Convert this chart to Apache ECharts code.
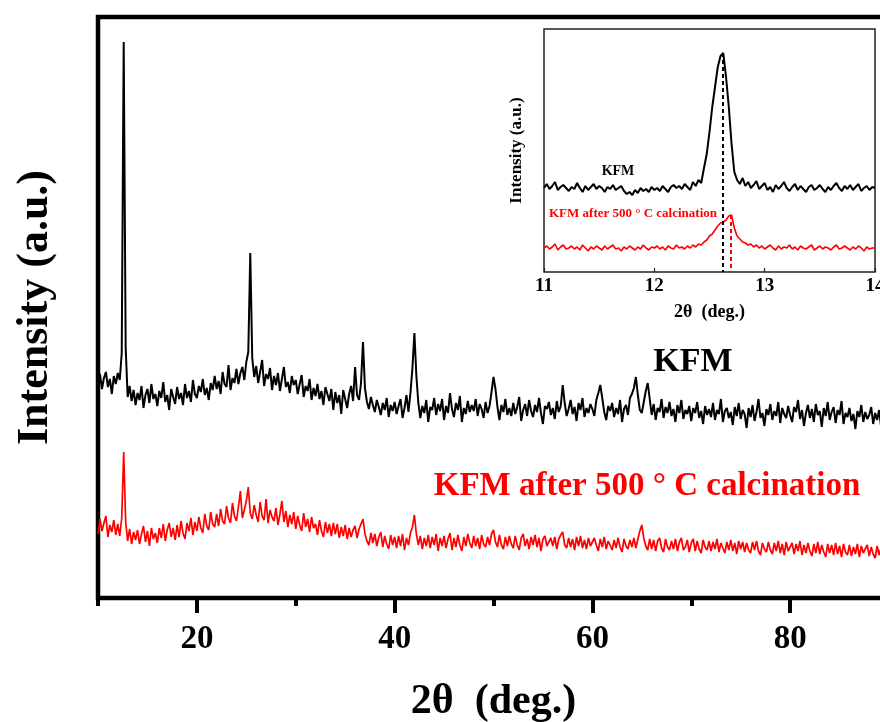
<!DOCTYPE html>
<html>
<head>
<meta charset="utf-8">
<script src="https://cdn.jsdelivr.net/npm/echarts@6/dist/echarts.min.js"></script>
<style>
  html, body { margin: 0; padding: 0; background: #fff; }
  #chart { width: 880px; height: 722px; }
</style>
</head>
<body>
<div id="chart"></div>
<script>
// XRD patterns, 2θ from 10° to 90° sampled every 0.2°
const twoThetaStart = 10;
const twoThetaStep = 0.2;

// KFM (as prepared), intensity in arbitrary units
const kfmIntensity = [
  212, 224, 209, 220, 226, 211, 219, 204, 222, 214,
  225, 218, 245, 556, 250, 201, 212, 197, 208, 193,
  205, 198, 212, 190, 203, 209, 195, 214, 199, 204,
  192, 207, 200, 216, 196, 203, 188, 209, 201, 194,
  211, 199, 205, 193, 214, 200, 207, 196, 218, 204,
  200, 212, 206, 219, 203, 210, 198, 215, 208, 222,
  209, 217, 204, 226, 214, 211, 233, 208, 220, 215,
  229, 214, 225, 231, 218, 236, 246, 345, 240, 221,
  232, 215, 226, 238, 212, 224, 219, 230, 208, 222,
  213, 225, 207, 219, 231, 211, 216, 205, 222, 213,
  218, 204, 214, 223, 201, 212, 207, 219, 198, 210,
  202, 214, 199, 207, 193, 211, 204, 197, 209, 188,
  206, 195, 203, 184, 208, 199, 190, 204, 212, 197,
  231, 203, 198, 215, 256, 210, 196, 189, 201, 193,
  186, 198, 191, 183, 195, 188, 200, 181, 193, 187,
  196, 184, 192, 199, 180, 190, 203, 186, 205, 230,
  265, 222, 195, 180, 192, 185, 198, 176, 191, 188,
  200, 183, 194, 187, 199, 178, 192, 185, 205, 189,
  181, 195, 188, 202, 176, 190, 184, 197, 186, 193,
  187, 199, 182, 194, 189, 180, 196, 185, 192, 206,
  221, 209, 191, 178, 193, 186, 199, 183, 190, 182,
  195, 184, 191, 201, 177, 188, 194, 182, 198, 187,
  181, 193, 186, 200, 185, 174, 192, 189, 196, 183,
  190, 179, 197, 186, 192, 213, 195, 182, 189, 198,
  184, 191, 177, 195, 188, 200, 181, 190, 185, 194,
  189, 182, 198, 205, 213, 200, 186, 178, 192, 187,
  195, 181, 190, 184, 198, 176, 189, 193, 183, 200,
  204, 210, 221, 203, 188, 185, 196, 207, 215, 199,
  183, 194, 178, 190, 186, 199, 180, 191, 185, 196,
  182, 189, 176, 193, 185, 198, 179, 188, 184, 192,
  177, 190, 185, 196, 180, 187, 174, 192, 183, 189,
  181, 195, 178, 188, 184, 199, 176, 187, 190, 180,
  186, 173, 191, 182, 195, 179, 188, 184, 170, 190,
  181, 193, 177, 186, 199, 180, 185, 172, 189, 183,
  194, 178, 187, 182, 196, 175, 190, 184, 180, 192,
  183, 176, 191, 186, 198, 179, 188, 172, 185, 193,
  180, 189, 176, 194, 183, 187, 171, 190, 182, 196,
  178, 186, 191, 175, 188, 183, 197, 174, 185, 181,
  190, 177, 184, 169, 187, 181, 193, 176, 186, 179,
  183, 191, 174, 185, 178, 188, 171, 184, 180, 176,
  181
];

// KFM after calcination at 500 °C
const calcinedIntensity = [
  64, 79, 67, 75, 82, 61, 73, 66, 78, 63,
  74, 62, 80, 146, 76, 57, 69, 54, 66, 58,
  68, 54, 64, 72, 56, 67, 52, 70, 59, 65,
  55, 70, 60, 74, 57, 68, 75, 61, 70, 58,
  73, 61, 77, 65, 59, 75, 67, 80, 63, 76,
  67, 81, 70, 65, 84, 72, 68, 86, 74, 71,
  84, 72, 89, 77, 74, 92, 80, 75, 95, 82,
  77, 91, 107, 80, 88, 97, 111, 85, 79, 93,
  83, 76, 96, 82, 78, 99, 75, 88, 81, 77,
  90, 73, 84, 97, 76, 87, 71, 83, 74, 86,
  69, 82, 73, 67, 85, 71, 79, 66, 81, 70,
  74, 63, 78, 67, 61, 76, 65, 74, 62, 75,
  64, 74, 60, 71, 62, 73, 59, 70, 61, 68,
  72, 60, 69, 74, 79, 64, 57, 53, 65, 55,
  64, 52, 61, 66, 51, 62, 54, 49, 63, 53,
  61, 50, 62, 52, 64, 48, 60, 53, 65, 71,
  83, 64, 53, 62, 49, 60, 52, 63, 50, 61,
  53, 64, 47, 60, 52, 62, 50, 59, 65, 48,
  60, 51, 63, 53, 47, 61, 52, 64, 55, 50,
  62, 52, 60, 49, 63, 54, 51, 61, 53, 64,
  68, 56, 51, 63, 53, 49, 61, 52, 62, 54,
  50, 62, 53, 48, 60, 64, 52, 59, 49, 61,
  53, 63, 51, 60, 47, 59, 62, 52, 50, 60,
  52, 61, 49, 59, 63, 66, 53, 50, 60, 51,
  59, 48, 61, 52, 62, 50, 58, 49, 60, 52,
  50, 60, 53, 47, 59, 51, 61, 49, 57, 59,
  48, 58, 50, 60, 51, 46, 59, 52, 49, 58,
  51, 60, 50, 59, 67, 73, 60, 52, 48, 59,
  49, 58, 47, 57, 60, 50, 46, 59, 51, 48,
  57, 49, 59, 47, 56, 60, 48, 51, 58, 46,
  55, 59, 47, 57, 49, 45, 58, 51, 48, 57,
  47, 56, 49, 59, 46, 55, 57, 45, 56, 48,
  58, 47, 55, 44, 57, 49, 56, 46, 55, 48,
  45, 56, 48, 57, 47, 43, 55, 49, 46, 56,
  48, 44, 55, 47, 57, 45, 54, 43, 56, 47,
  46, 55, 44, 54, 47, 57, 43, 53, 45, 55,
  47, 42, 54, 45, 56, 44, 53, 46, 41, 54,
  45, 53, 43, 55, 44, 52, 41, 54, 46, 43,
  53, 42, 51, 44, 54, 41, 52, 45, 43, 53,
  42, 51, 44, 40, 52, 43, 50, 41, 51, 43,
  47
];

// Close-up of the first reflection, 2θ 11°–14° every 0.025°
const zoomStart = 11;
const zoomStep = 0.025;
const zoomKfm = [
  84, 88, 83, 86, 90, 82, 85, 87, 84, 81,
  85, 83, 89, 84, 80, 86, 82, 85, 88, 83,
  86, 84, 80, 85, 83, 87, 82, 84, 86, 81,
  78, 80, 77, 82, 79, 84, 81, 83, 80, 85,
  82, 84, 81, 86, 83, 80, 85, 87, 84, 86,
  83, 88, 85, 82, 90, 86, 92, 89, 104, 118,
  140, 165, 185, 205, 216, 219, 195, 165, 128, 100,
  92, 88, 94, 86, 90, 84, 87, 91, 83, 86,
  89, 82, 85, 80, 87, 83, 86, 90, 84, 81,
  85, 88, 82, 86, 83, 80, 85, 87, 82, 84,
  87, 83, 80, 85, 82, 86, 89, 84, 81, 86,
  83, 87, 82, 85, 88, 81, 84, 86, 82, 85,
  84
];
const zoomCalcined = [
  24, 26, 23, 25, 28, 22, 25, 27, 23, 24,
  26, 23, 25, 22, 27, 24, 21, 25, 23, 26,
  24, 22, 26, 23, 25, 27, 23, 24, 21, 25,
  23, 26, 24, 22, 25, 23, 27, 24, 22, 25,
  24, 26, 23, 25, 22, 26, 24, 23, 27, 24,
  25, 23, 26, 24, 27, 25, 28, 27, 30, 32,
  36, 38, 42, 46, 49, 50, 52, 56, 57, 44,
  36, 33, 30, 29, 27, 28, 25, 27, 24, 26,
  23, 25, 27, 24, 22, 26, 23, 25, 24, 27,
  23, 25, 22, 26, 24, 23, 25, 27, 22, 24,
  26, 23, 25, 24, 22, 25, 27, 23, 24, 26,
  24, 22, 25, 23, 26, 24, 21, 25, 23, 24,
  24
];
// Peak centres marked with dashed guides (2θ, deg.)
const peakCentres = [12.62, 12.69];

const mainTicks = [20, 40, 60, 80];
const mainMinorTicks = [10, 30, 50, 70, 90];

const seriesNames = ['KFM', 'KFM after 500 ° C calcination'];
const colors = ['#000000', '#ff0000'];

function pairs(start, step, values) {
  return values.map((v, i) => [+(start + step * i).toFixed(3), v]);
}

const serif = 'Liberation Serif, Times New Roman, serif';
const chart = echarts.init(document.getElementById('chart'), null, { renderer: 'canvas' });

const option = {
  backgroundColor: '#ffffff',
  animation: false,
  grid: [
    { left: 98, top: 17, right: -9, bottom: 124, show: true, outerBoundsMode: 'none',
      borderColor: '#000', borderWidth: 4.5, backgroundColor: 'transparent' },
    { left: 544, top: 29, right: 5, bottom: 450, show: true, outerBoundsMode: 'none',
      borderColor: '#222', borderWidth: 1.5, backgroundColor: '#fff' }
  ],
  xAxis: [
    { gridIndex: 0, type: 'value', min: 10, max: 90, position: 'bottom',
      name: '2θ  (deg.)', nameLocation: 'middle', nameGap: 83,
      nameTextStyle: { fontFamily: serif, fontWeight: 'bold', fontSize: 42, color: '#000' },
      axisLine: { show: false },
      axisTick: { show: true, customValues: mainTicks, length: 15, lineStyle: { width: 4, color: '#000' } },
      axisLabel: { show: true, customValues: mainTicks, margin: 25,
        fontFamily: serif, fontWeight: 'bold', fontSize: 33, color: '#000' },
      splitLine: { show: false } },
    { gridIndex: 0, type: 'value', min: 10, max: 90, position: 'bottom',
      axisLine: { show: false },
      axisTick: { show: true, customValues: mainMinorTicks, length: 8, lineStyle: { width: 4, color: '#000' } },
      axisLabel: { show: false }, splitLine: { show: false } },
    { gridIndex: 1, type: 'value', min: 11, max: 14, interval: 1, position: 'bottom',
      name: '2θ  (deg.)', nameLocation: 'middle', nameGap: 31,
      nameTextStyle: { fontFamily: serif, fontWeight: 'bold', fontSize: 18, color: '#000' },
      axisLine: { show: false },
      axisTick: { show: true, inside: true, length: 4, lineStyle: { width: 1.2, color: '#222' } },
      axisLabel: { show: true, margin: 5, fontFamily: serif, fontWeight: 'bold', fontSize: 19, color: '#000' },
      splitLine: { show: false } }
  ],
  yAxis: [
    { gridIndex: 0, type: 'value', min: 0, max: 581,
      name: 'Intensity (a.u.)', nameLocation: 'middle', nameGap: 40,
      nameTextStyle: { fontFamily: serif, fontWeight: 'bold', fontSize: 44, color: '#000' },
      axisLine: { show: false }, axisTick: { show: false }, axisLabel: { show: false },
      splitLine: { show: false } },
    { gridIndex: 1, type: 'value', min: 0, max: 243,
      name: 'Intensity (a.u.)', nameLocation: 'middle', nameGap: 19,
      nameTextStyle: { fontFamily: serif, fontWeight: 'bold', fontSize: 17, color: '#000' },
      axisLine: { show: false }, axisTick: { show: false }, axisLabel: { show: false },
      splitLine: { show: false } }
  ],
  series: [
    { name: seriesNames[0], type: 'line', xAxisIndex: 0, yAxisIndex: 0,
      data: pairs(twoThetaStart, twoThetaStep, kfmIntensity),
      showSymbol: false, lineStyle: { color: colors[0], width: 2 }, z: 3 },
    { name: seriesNames[1], type: 'line', xAxisIndex: 0, yAxisIndex: 0,
      data: pairs(twoThetaStart, twoThetaStep, calcinedIntensity),
      showSymbol: false, lineStyle: { color: colors[1], width: 1.7 }, z: 3 },
    { name: seriesNames[0] + ' (11–14°)', type: 'line', xAxisIndex: 2, yAxisIndex: 1,
      data: pairs(zoomStart, zoomStep, zoomKfm),
      showSymbol: false, lineStyle: { color: colors[0], width: 2 }, z: 4,
      markLine: { silent: true, symbol: 'none', label: { show: false },
        lineStyle: { color: colors[0], type: [4, 3], width: 2 },
        data: [[{ coord: [peakCentres[0], Math.max(...zoomKfm)] }, { coord: [peakCentres[0], 0] }]] } },
    { name: seriesNames[1] + ' (11–14°)', type: 'line', xAxisIndex: 2, yAxisIndex: 1,
      data: pairs(zoomStart, zoomStep, zoomCalcined),
      showSymbol: false, lineStyle: { color: colors[1], width: 1.6 }, z: 4,
      markLine: { silent: true, symbol: 'none', label: { show: false },
        lineStyle: { color: colors[1], type: [4, 3], width: 2 },
        data: [[{ coord: [peakCentres[1], Math.max(...zoomCalcined)] }, { coord: [peakCentres[1], 0] }]] } }
  ],
  graphic: [
    { type: 'text', x: 693, y: 362, z: 10,
      style: { text: seriesNames[0], fill: colors[0], font: 'bold 34px ' + serif,
        textAlign: 'center', textVerticalAlign: 'middle' } },
    { type: 'text', x: 647, y: 486, z: 10,
      style: { text: seriesNames[1], fill: colors[1], font: 'bold 33px ' + serif,
        textAlign: 'center', textVerticalAlign: 'middle' } },
    { type: 'text', x: 618, y: 171, z: 10,
      style: { text: seriesNames[0], fill: colors[0], font: 'bold 14px ' + serif,
        textAlign: 'center', textVerticalAlign: 'middle' } },
    { type: 'text', x: 633, y: 214, z: 10,
      style: { text: seriesNames[1], fill: colors[1], font: 'bold 13px ' + serif,
        textAlign: 'center', textVerticalAlign: 'middle' } }
  ]
};

chart.setOption(option);
</script>
</body>
</html>
